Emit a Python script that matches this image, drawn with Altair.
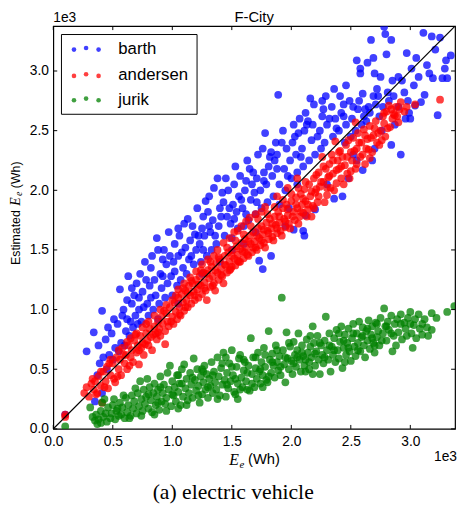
import altair as alt
import pandas as pd

# ---------------- data (values in units of 1e3 Wh) ----------------
barth = [
    (0.10, 0.12), (0.28, 0.65), (0.34, 0.81), (0.35, 0.23), (0.37, 0.45), (0.39, 0.55), (0.38, 0.70),
    (0.41, 0.99), (0.41, 0.30), (0.42, 0.60), (0.45, 0.50), (0.47, 0.62), (0.44, 0.75), (0.46, 0.85),
    (0.50, 0.58), (0.52, 0.68), (0.49, 0.80), (0.51, 0.92), (0.56, 1.17), (0.55, 0.65), (0.57, 0.72),
    (0.54, 0.88), (0.58, 0.95), (0.60, 0.70), (0.61, 0.82), (0.59, 1.00), (0.62, 1.08), (0.63, 1.28),
    (0.64, 0.78), (0.65, 0.90), (0.67, 0.85), (0.69, 0.95), (0.66, 1.05), (0.68, 1.12), (0.70, 1.22),
    (0.71, 0.88), (0.72, 1.00), (0.74, 0.90), (0.76, 1.02), (0.75, 1.15), (0.73, 1.30), (0.77, 1.40),
    (0.80, 0.95), (0.79, 1.05), (0.81, 1.20), (0.82, 1.35), (0.84, 1.00), (0.86, 1.12), (0.85, 1.25),
    (0.83, 1.45), (0.87, 1.60), (0.89, 1.05), (0.91, 1.18), (0.90, 1.30), (0.92, 1.42), (0.94, 1.10),
    (0.96, 1.22), (0.95, 1.38), (0.93, 1.50), (0.97, 1.65), (1.00, 1.12), (0.99, 1.28), (1.01, 1.40),
    (1.02, 1.55), (1.04, 1.20), (1.05, 1.45), (1.07, 1.25), (1.09, 1.35), (1.08, 1.48), (1.06, 1.62),
    (1.10, 1.72), (1.13, 1.76), (1.12, 1.30), (1.14, 1.42), (1.15, 1.58), (1.19, 1.63), (1.18, 1.38),
    (1.20, 1.50), (1.17, 1.70), (1.21, 1.85), (1.24, 1.40), (1.23, 1.55), (1.25, 1.68), (1.26, 1.78),
    (1.28, 1.91), (1.29, 1.45), (1.27, 1.62), (1.30, 1.82), (1.33, 1.50), (1.32, 1.65), (1.34, 1.75),
    (1.31, 1.95), (1.35, 2.02), (1.38, 2.10), (1.37, 1.55), (1.39, 1.70), (1.40, 1.85), (1.40, 1.40),
    (1.45, 2.10), (1.44, 1.62), (1.46, 1.78), (1.43, 1.90), (1.47, 2.00), (1.50, 1.60), (1.49, 1.72),
    (1.51, 1.88), (1.52, 2.05), (1.55, 1.68), (1.54, 1.82), (1.56, 1.95), (1.57, 2.12), (1.53, 2.20),
    (1.60, 1.70), (1.59, 1.85), (1.61, 2.00), (1.62, 2.08), (1.60, 1.55), (1.65, 2.18), (1.64, 1.75),
    (1.66, 1.92), (1.67, 2.05), (1.63, 2.25), (1.70, 1.80), (1.69, 1.98), (1.71, 2.10), (1.72, 2.30),
    (1.73, 1.41), (1.76, 1.34), (1.75, 1.85), (1.74, 2.00), (1.77, 2.15), (1.76, 2.35), (1.80, 1.90),
    (1.79, 2.05), (1.81, 2.20), (1.82, 2.28), (1.78, 2.48), (1.83, 1.45), (1.85, 1.95), (1.84, 2.12),
    (1.86, 2.25), (1.87, 2.40), (1.89, 2.80), (1.90, 2.05), (1.88, 2.30), (1.95, 2.00), (1.94, 2.18),
    (1.96, 2.35), (1.93, 2.50), (1.95, 1.70), (2.00, 2.10), (1.99, 2.25), (2.01, 2.40), (2.02, 2.55),
    (1.98, 1.85), (2.02, 1.67), (2.05, 2.15), (2.04, 2.30), (2.06, 2.48), (2.07, 2.60), (2.10, 2.20),
    (2.09, 2.35), (2.11, 2.50), (2.12, 2.65), (2.10, 1.66), (2.11, 1.62), (2.12, 1.79), (2.16, 2.77),
    (2.15, 2.25), (2.17, 2.42), (2.14, 2.58), (2.19, 2.72), (2.20, 2.30), (2.18, 2.55), (2.20, 1.84),
    (2.25, 2.35), (2.24, 2.50), (2.26, 2.62), (2.29, 2.79), (2.28, 2.40), (2.30, 2.55), (2.27, 2.68),
    (2.30, 2.05), (2.36, 2.85), (2.35, 2.45), (2.37, 2.60), (2.34, 2.70), (2.36, 1.93), (2.41, 2.79),
    (2.40, 2.50), (2.42, 2.65), (2.43, 1.95), (2.45, 2.40), (2.46, 2.55), (2.44, 2.72), (2.48, 2.10),
    (2.50, 2.45), (2.51, 2.60), (2.49, 2.75), (2.55, 3.09), (2.54, 2.50), (2.56, 2.68), (2.55, 2.25),
    (2.58, 3.02), (2.58, 2.98), (2.59, 2.55), (2.57, 2.75), (2.60, 2.81), (2.61, 2.62), (2.60, 2.17),
    (2.64, 3.07), (2.63, 2.58), (2.65, 2.70), (2.67, 3.26), (2.66, 2.65), (2.69, 3.11), (2.69, 2.79),
    (2.70, 2.35), (2.71, 2.72), (2.73, 2.79), (2.74, 2.62), (2.72, 2.85), (2.78, 3.37), (2.77, 2.70),
    (2.80, 3.14), (2.79, 3.31), (2.81, 2.82), (2.82, 2.75), (2.84, 3.26), (2.84, 2.38), (2.85, 2.92),
    (2.86, 2.79), (2.87, 2.55), (2.92, 2.30), (2.93, 2.92), (2.95, 2.82), (2.96, 2.60), (3.00, 2.60),
    (3.01, 3.02), (2.99, 2.65), (3.04, 2.71), (3.03, 2.88), (3.05, 3.11), (3.09, 2.74), (3.11, 3.32),
    (3.16, 2.98), (3.18, 3.29), (3.19, 2.94), (3.23, 2.63), (3.25, 3.28), (3.27, 2.94), (3.30, 3.09),
    (3.29, 3.02), (3.31, 2.94), (3.34, 3.13),
    (0.62, 0.92), (0.66, 1.18), (0.72, 1.10), (0.78, 1.25), (0.82, 1.10), (0.88, 1.50), (0.92, 1.28),
    (0.98, 1.45), (1.02, 1.32), (1.05, 1.68), (1.11, 1.52), (1.16, 1.45), (1.22, 1.62), (1.26, 1.50),
    (1.31, 1.70), (1.36, 1.62), (1.41, 1.78), (1.42, 1.98), (1.48, 1.85), (1.52, 1.76), (1.58, 1.92),
    (1.62, 1.80), (1.68, 2.15), (1.71, 1.90), (1.77, 2.08), (1.83, 2.32), (1.88, 2.18), (1.92, 2.40),
    (1.97, 2.12), (2.03, 2.45), (2.08, 2.28), (2.13, 2.55), (2.22, 2.45), (2.26, 2.75), (2.32, 2.60),
    (2.38, 2.52), (2.44, 2.62), (2.52, 2.70), (2.62, 2.68), (2.75, 2.95), (2.90, 2.95), (3.07, 2.95),
    (3.14, 3.05), (3.21, 3.18), (2.97, 3.15), (2.70, 2.98), (2.46, 2.88), (2.05, 2.05), (1.90, 1.88),
    (1.70, 1.65), (1.50, 1.50), (1.25, 1.30), (1.05, 1.05), (0.88, 0.92), (2.52, 2.30), (2.76, 2.50),
    (2.68, 2.25), (3.12, 2.80), (2.98, 2.75), (2.90, 2.70),
]

andersen = [
    (0.10, 0.10), (0.10, 0.12), (0.26, 0.30), (0.28, 0.35), (0.30, 0.27), (0.32, 0.38), (0.34, 0.33),
    (0.35, 0.40), (0.37, 0.30), (0.38, 0.44), (0.40, 0.36), (0.41, 0.22), (0.42, 0.48), (0.44, 0.40),
    (0.45, 0.52), (0.46, 0.34), (0.48, 0.45), (0.50, 0.55), (0.51, 0.42), (0.52, 0.39), (0.53, 0.60),
    (0.55, 0.50), (0.56, 0.58), (0.57, 0.45), (0.58, 0.68), (0.60, 0.55), (0.61, 0.62), (0.62, 0.50),
    (0.63, 0.70), (0.65, 0.60), (0.65, 0.76), (0.66, 0.66), (0.67, 0.56), (0.68, 0.74), (0.70, 0.64),
    (0.71, 0.70), (0.72, 0.54), (0.73, 0.78), (0.74, 0.68), (0.75, 0.72), (0.75, 0.85), (0.76, 0.62),
    (0.78, 0.80), (0.79, 0.74), (0.80, 0.70), (0.81, 0.84), (0.82, 0.77), (0.83, 0.66), (0.85, 0.86),
    (0.85, 0.95), (0.86, 0.80), (0.87, 0.75), (0.88, 0.90), (0.89, 0.84), (0.90, 0.78), (0.91, 0.94),
    (0.92, 0.88), (0.94, 0.71), (0.94, 0.82), (0.95, 0.97), (0.95, 1.04), (0.96, 0.90), (0.97, 0.86),
    (0.98, 1.02), (1.00, 0.94), (1.01, 0.88), (1.02, 1.06), (1.03, 0.98), (1.04, 0.92), (1.05, 1.10),
    (1.05, 1.17), (1.06, 1.02), (1.07, 0.95), (1.08, 1.13), (1.09, 1.06), (1.10, 0.99), (1.11, 1.16),
    (1.12, 1.08), (1.13, 1.02), (1.14, 1.20), (1.15, 1.12), (1.15, 1.27), (1.16, 1.05), (1.17, 1.22),
    (1.18, 1.15), (1.19, 1.08), (1.20, 1.25), (1.21, 1.17), (1.22, 1.10), (1.23, 1.28), (1.24, 1.20),
    (1.25, 1.13), (1.25, 1.38), (1.26, 1.31), (1.27, 1.23), (1.28, 1.16), (1.29, 1.08), (1.30, 1.33),
    (1.31, 1.26), (1.32, 1.19), (1.33, 1.36), (1.34, 1.28), (1.35, 1.22), (1.35, 1.45), (1.36, 1.16),
    (1.37, 1.39), (1.38, 1.31), (1.39, 1.25), (1.40, 1.42), (1.41, 1.34), (1.42, 1.28), (1.43, 1.22),
    (1.43, 1.56), (1.44, 1.45), (1.45, 1.37), (1.46, 1.31), (1.47, 1.48), (1.48, 1.40), (1.49, 1.34),
    (1.50, 1.36), (1.51, 1.50), (1.52, 1.43), (1.52, 1.65), (1.53, 1.37), (1.54, 1.53), (1.55, 1.46),
    (1.56, 1.40), (1.57, 1.40), (1.58, 1.56), (1.58, 1.70), (1.59, 1.49), (1.60, 1.43), (1.61, 1.59),
    (1.62, 1.52), (1.62, 1.74), (1.63, 1.46), (1.64, 1.45), (1.65, 1.62), (1.66, 1.55), (1.67, 1.48),
    (1.68, 1.65), (1.69, 1.57), (1.70, 1.80), (1.70, 1.52), (1.71, 1.50), (1.72, 1.68), (1.73, 1.60),
    (1.74, 1.54), (1.75, 1.70), (1.76, 1.63), (1.77, 1.56), (1.78, 1.52), (1.78, 1.86), (1.79, 1.73),
    (1.80, 1.66), (1.81, 1.59), (1.82, 1.76), (1.83, 1.68), (1.84, 1.61), (1.85, 1.58), (1.86, 1.78),
    (1.87, 1.71), (1.88, 1.64), (1.88, 1.95), (1.89, 1.82), (1.90, 1.73), (1.91, 1.66), (1.92, 1.62),
    (1.93, 1.85), (1.94, 1.76), (1.95, 1.69), (1.96, 1.88), (1.97, 1.79), (1.97, 2.02), (1.98, 1.72),
    (1.99, 1.68), (2.00, 1.91), (2.02, 1.82), (2.03, 1.75), (2.04, 1.94), (2.05, 1.85), (2.05, 2.10),
    (2.06, 1.72), (2.07, 1.78), (2.08, 1.97), (2.09, 1.88), (2.10, 1.81), (2.11, 2.01), (2.12, 1.91),
    (2.13, 1.78), (2.14, 1.84), (2.15, 2.05), (2.16, 1.95), (2.17, 1.78), (2.18, 1.87), (2.19, 2.10),
    (2.20, 1.98), (2.21, 2.01), (2.22, 1.90), (2.23, 2.15), (2.24, 2.03), (2.26, 2.28), (2.27, 2.07),
    (2.28, 1.90), (2.29, 2.18), (2.30, 1.96), (2.31, 2.11), (2.32, 2.22), (2.33, 2.02), (2.34, 2.30),
    (2.35, 2.14), (2.37, 2.41), (2.38, 2.06), (2.39, 2.25), (2.40, 2.18), (2.41, 2.33), (2.42, 2.10),
    (2.43, 2.28), (2.45, 2.21), (2.46, 2.38), (2.47, 2.14), (2.49, 2.10), (2.50, 2.32), (2.51, 2.25),
    (2.52, 2.44), (2.54, 2.18), (2.54, 2.57), (2.55, 2.35), (2.56, 2.48), (2.58, 2.28), (2.59, 2.40),
    (2.61, 2.51), (2.62, 2.22), (2.64, 2.43), (2.65, 2.34), (2.66, 2.54), (2.68, 2.32), (2.69, 2.46),
    (2.71, 2.58), (2.72, 2.40), (2.74, 2.38), (2.75, 2.50), (2.77, 2.62), (2.78, 2.56), (2.79, 2.45),
    (2.80, 2.66), (2.82, 2.71), (2.83, 2.53), (2.85, 2.60), (2.86, 2.64), (2.87, 2.63), (2.88, 2.70),
    (2.90, 2.57), (2.92, 2.74), (2.95, 2.66), (3.04, 2.72), (3.25, 2.76),
    (0.33, 0.42), (0.36, 0.29), (0.43, 0.35), (0.47, 0.55), (0.54, 0.44), (0.59, 0.62), (0.64, 0.53),
    (0.69, 0.79), (0.72, 0.66), (0.77, 0.71), (0.78, 0.88), (0.84, 0.79), (0.88, 0.81), (0.93, 0.99),
    (0.99, 0.90), (1.00, 1.08), (1.03, 1.12), (1.06, 0.96), (1.09, 1.18), (1.11, 1.02), (1.13, 1.14),
    (1.16, 1.24), (1.19, 1.12), (1.22, 1.21), (1.24, 1.33), (1.27, 1.18), (1.29, 1.30), (1.32, 1.40),
    (1.34, 1.20), (1.36, 1.33), (1.39, 1.44), (1.41, 1.29), (1.44, 1.38), (1.46, 1.52), (1.48, 1.33),
    (1.50, 1.45), (1.53, 1.58), (1.55, 1.41), (1.57, 1.51), (1.60, 1.63), (1.61, 1.48), (1.64, 1.57),
    (1.66, 1.70), (1.68, 1.52), (1.71, 1.62), (1.72, 1.76), (1.75, 1.58), (1.77, 1.67), (1.80, 1.80),
    (1.81, 1.64), (1.84, 1.72), (1.86, 1.86), (1.88, 1.68), (1.90, 1.78), (1.93, 1.92), (1.95, 1.74),
    (1.97, 1.84), (2.00, 1.97), (2.01, 1.78), (2.04, 1.88), (2.06, 2.02), (2.08, 1.82), (2.10, 1.93),
    (2.12, 2.07), (2.14, 1.88), (2.17, 1.99), (2.19, 1.85), (2.21, 2.13), (2.23, 1.95), (2.25, 2.07),
    (2.27, 2.20), (2.30, 2.02), (2.32, 2.12), (2.35, 2.25), (2.36, 2.00), (2.38, 2.17), (2.40, 2.32),
    (2.42, 2.20), (2.44, 2.05), (2.47, 2.28), (2.48, 2.42), (2.50, 2.16), (2.53, 2.33), (2.55, 2.22),
    (2.57, 2.40), (2.60, 2.30), (2.62, 2.46), (2.63, 2.35), (2.66, 2.27), (2.67, 2.44), (2.70, 2.52),
    (2.73, 2.48), (2.76, 2.42), (2.78, 2.65), (2.81, 2.52), (2.84, 2.68), (2.89, 2.62), (2.91, 2.68),
    (2.97, 2.70), (1.48, 1.60), (1.38, 1.50), (1.30, 1.42), (1.20, 1.32), (1.10, 1.22), (1.65, 1.77),
    (1.75, 1.82), (1.55, 1.66), (0.90, 1.00), (0.80, 0.90), (0.70, 0.80), (0.62, 0.73), (0.55, 0.66),
    (0.48, 0.58), (0.40, 0.48),
]

jurik = [
    (0.10, 0.02), (0.31, 0.18), (0.33, 0.10), (0.35, 0.07), (0.36, 0.12), (0.37, 0.04), (0.38, 0.08),
    (0.40, 0.05), (0.40, 0.15), (0.41, 0.22), (0.42, 0.10), (0.44, 0.13), (0.45, 0.06), (0.46, 0.18),
    (0.48, 0.09), (0.49, 0.13), (0.50, 0.20), (0.51, 0.25), (0.52, 0.08), (0.53, 0.15), (0.55, 0.11),
    (0.56, 0.22), (0.57, 0.12), (0.58, 0.18), (0.60, 0.09), (0.61, 0.26), (0.62, 0.14), (0.63, 0.20),
    (0.65, 0.11), (0.66, 0.28), (0.67, 0.17), (0.68, 0.23), (0.70, 0.13), (0.71, 0.30), (0.72, 0.19),
    (0.73, 0.40), (0.74, 0.25), (0.75, 0.15), (0.76, 0.33), (0.77, 0.21), (0.78, 0.27), (0.79, 0.42),
    (0.80, 0.17), (0.81, 0.35), (0.82, 0.24), (0.83, 0.14), (0.84, 0.30), (0.85, 0.38), (0.86, 0.20),
    (0.87, 0.27), (0.88, 0.33), (0.89, 0.16), (0.90, 0.44), (0.91, 0.23), (0.92, 0.30), (0.93, 0.37),
    (0.94, 0.21), (0.95, 0.26), (0.96, 0.47), (0.97, 0.33), (0.98, 0.53), (0.99, 0.19), (1.00, 0.40),
    (1.01, 0.28), (1.02, 0.35), (1.03, 0.23), (1.04, 0.45), (1.05, 0.31), (1.06, 0.38), (1.07, 0.20),
    (1.08, 0.50), (1.09, 0.27), (1.10, 0.54), (1.11, 0.34), (1.12, 0.42), (1.13, 0.24), (1.14, 0.30),
    (1.15, 0.47), (1.16, 0.37), (1.17, 0.26), (1.18, 0.59), (1.19, 0.41), (1.20, 0.32), (1.21, 0.50),
    (1.22, 0.36), (1.23, 0.22), (1.24, 0.44), (1.25, 0.29), (1.26, 0.39), (1.27, 0.53), (1.28, 0.33),
    (1.29, 0.46), (1.30, 0.26), (1.31, 0.42), (1.32, 0.36), (1.33, 0.56), (1.34, 0.30), (1.35, 0.48),
    (1.36, 0.39), (1.37, 0.33), (1.38, 0.60), (1.39, 0.44), (1.40, 0.28), (1.41, 0.51), (1.42, 0.37),
    (1.43, 0.64), (1.44, 0.41), (1.45, 0.27), (1.46, 0.47), (1.47, 0.34), (1.48, 0.55), (1.49, 0.40),
    (1.50, 0.66), (1.51, 0.45), (1.52, 0.31), (1.53, 0.29), (1.54, 0.52), (1.55, 0.38), (1.56, 0.59),
    (1.57, 0.62), (1.58, 0.43), (1.59, 0.35), (1.60, 0.49), (1.61, 0.56), (1.62, 0.40), (1.63, 0.33),
    (1.64, 0.53), (1.65, 0.32), (1.66, 0.76), (1.67, 0.46), (1.68, 0.60), (1.69, 0.35), (1.70, 0.51),
    (1.71, 0.42), (1.72, 0.64), (1.73, 0.48), (1.74, 0.38), (1.75, 0.56), (1.76, 0.45), (1.77, 0.68),
    (1.78, 0.52), (1.79, 0.41), (1.80, 0.39), (1.81, 0.82), (1.82, 0.58), (1.83, 0.47), (1.84, 0.63),
    (1.85, 0.53), (1.86, 0.43), (1.87, 0.70), (1.88, 0.56), (1.89, 0.49), (1.90, 0.61), (1.91, 0.45),
    (1.92, 1.10), (1.93, 0.66), (1.94, 0.54), (1.95, 0.39), (1.96, 0.81), (1.97, 0.59), (1.98, 0.50),
    (1.99, 0.69), (2.00, 0.57), (2.01, 0.46), (2.02, 0.73), (2.03, 0.62), (2.04, 0.52), (2.05, 0.66),
    (2.06, 0.80), (2.07, 0.58), (2.08, 0.48), (2.09, 0.70), (2.10, 0.61), (2.11, 0.53), (2.12, 0.48),
    (2.13, 0.75), (2.14, 0.64), (2.15, 0.56), (2.16, 0.69), (2.17, 0.60), (2.18, 0.86), (2.18, 0.46),
    (2.19, 0.72), (2.20, 0.53), (2.21, 0.65), (2.22, 0.78), (2.23, 0.58), (2.24, 0.46), (2.25, 0.70),
    (2.26, 0.62), (2.27, 0.55), (2.28, 0.74), (2.29, 0.94), (2.30, 0.66), (2.31, 0.58), (2.32, 0.80),
    (2.33, 0.48), (2.34, 0.69), (2.35, 0.62), (2.36, 0.76), (2.37, 0.56), (2.38, 0.83), (2.39, 0.66),
    (2.40, 0.59), (2.41, 0.73), (2.42, 0.86), (2.43, 0.51), (2.44, 0.68), (2.45, 0.79), (2.46, 0.62),
    (2.47, 0.72), (2.48, 0.84), (2.49, 0.65), (2.50, 0.57), (2.51, 0.76), (2.52, 0.88), (2.53, 0.69),
    (2.54, 0.61), (2.55, 0.80), (2.56, 0.72), (2.57, 0.90), (2.58, 0.65), (2.59, 0.77), (2.60, 0.85),
    (2.61, 0.70), (2.62, 0.60), (2.63, 0.82), (2.64, 0.74), (2.65, 0.91), (2.66, 0.67), (2.67, 0.79),
    (2.68, 0.86), (2.69, 0.72), (2.70, 0.64), (2.71, 0.89), (2.72, 0.77), (2.73, 0.82), (2.74, 0.70),
    (2.75, 0.93), (2.77, 0.80), (2.78, 1.01), (2.79, 0.86), (2.80, 0.74), (2.81, 0.90), (2.82, 0.83),
    (2.84, 0.95), (2.85, 0.65), (2.86, 0.78), (2.87, 0.88), (2.89, 0.92), (2.90, 0.81), (2.92, 0.96),
    (2.93, 0.75), (2.95, 0.89), (2.96, 0.84), (2.98, 0.93), (3.00, 0.98), (3.01, 0.80), (3.02, 0.68),
    (3.03, 0.87), (3.05, 0.76), (3.07, 0.96), (3.08, 0.84), (3.10, 0.79), (3.12, 0.92), (3.15, 0.78),
    (3.18, 0.97), (3.18, 0.83), (3.22, 0.93), (3.31, 0.98), (3.37, 1.03),
    (0.43, 0.25), (0.54, 0.17), (0.59, 0.28), (0.64, 0.09), (0.69, 0.34), (0.74, 0.11), (0.80, 0.29),
    (0.85, 0.12), (0.90, 0.35), (0.95, 0.15), (1.00, 0.29), (1.05, 0.17), (1.08, 0.38), (1.12, 0.20),
    (1.17, 0.43), (1.22, 0.28), (1.26, 0.48), (1.30, 0.35), (1.34, 0.45), (1.38, 0.25), (1.42, 0.55),
    (1.46, 0.37), (1.50, 0.52), (1.53, 0.42), (1.57, 0.33), (1.60, 0.58), (1.63, 0.47), (1.67, 0.38),
    (1.70, 0.60), (1.74, 0.50), (1.78, 0.62), (1.81, 0.44), (1.84, 0.56), (1.88, 0.66), (1.91, 0.52),
    (1.95, 0.60), (1.98, 0.72), (2.02, 0.55), (2.05, 0.60), (2.09, 0.64), (2.12, 0.58), (2.16, 0.78),
    (2.20, 0.63), (2.24, 0.72), (2.28, 0.60), (2.32, 0.70), (2.36, 0.66), (2.40, 0.80), (2.44, 0.74),
    (2.48, 0.68), (2.52, 0.80), (2.56, 0.66), (2.60, 0.78), (2.64, 0.84), (2.68, 0.76), (2.72, 0.88),
    (2.76, 0.74), (2.80, 0.86), (2.84, 0.80), (2.88, 0.70), (2.92, 0.88), (2.97, 0.78), (3.00, 0.88),
    (3.04, 0.92), (3.10, 0.88), (3.14, 0.85), (1.45, 0.60), (1.25, 0.50), (1.05, 0.45), (0.88, 0.22),
    (2.15, 0.50), (2.45, 0.56), (2.70, 0.70), (1.76, 0.35), (1.55, 0.25),
]

series_names = ["barth", "andersen", "jurik"]
series_colors = ["#0000ff", "#ff0000", "#008000"]
tick_values = [0.0, 0.5, 1.0, 1.5, 2.0, 2.5, 3.0]
axis_max = 3.376
diag = [0.0, axis_max]

# ---------------- build tables ----------------
rows = []
for name, pts in zip(series_names, [barth, andersen, jurik]):
    for x, y in pts:
        rows.append({"series": name, "x": x, "y": y})
df = pd.DataFrame(rows)
diag_df = pd.DataFrame({"x": diag, "y": diag})
ticks_df = pd.DataFrame({"x": tick_values, "y": tick_values})

W, H = 408, 409
FONT = "Liberation Sans"
SERIF = "Liberation Serif"

xs = alt.Scale(domain=[0, axis_max], nice=False, zero=False)
ys = alt.Scale(domain=[0, axis_max], nice=False, zero=False)

axis_common = dict(
    values=tick_values, format=".1f", labelFont=FONT, labelFontSize=14, labelColor="black",
    ticks=False, domain=False, grid=False, title=None, labelFlush=False, labelOverlap=False,
)
x_axis = alt.Axis(labelPadding=6, **axis_common)
y_axis = alt.Axis(labelPadding=5, **axis_common)

X = alt.X("x:Q", scale=xs, axis=x_axis)
Y = alt.Y("y:Q", scale=ys, axis=y_axis)

points = alt.Chart(df).mark_circle(size=62, opacity=0.75, clip=True).encode(
    x=X, y=Y,
    color=alt.Color("series:N", scale=alt.Scale(domain=series_names, range=series_colors), legend=None),
)

line = alt.Chart(diag_df).mark_line(color="black", strokeWidth=1.2, clip=True).encode(x=X, y=Y)

tk = alt.Chart(ticks_df)
tick_layers = [
    tk.mark_rule(color="black").encode(x=X, y=alt.value(H), y2=alt.value(H - 4)),
    tk.mark_rule(color="black").encode(x=X, y=alt.value(0), y2=alt.value(4)),
    tk.mark_rule(color="black").encode(y=Y, x=alt.value(0), x2=alt.value(4)),
    tk.mark_rule(color="black").encode(y=Y, x=alt.value(W - 4), x2=alt.value(W)),
]

one = alt.Data(values=[{}])


def txt(text, x, y, size, font=FONT, align="left", baseline="alphabetic", angle=None, style=None):
    kw = dict(text=text, font=font, fontSize=size, align=align, baseline=baseline, color="black")
    if angle is not None:
        kw["angle"] = angle
    if style is not None:
        kw["fontStyle"] = style
    return alt.Chart(one).mark_text(**kw).encode(x=alt.value(x), y=alt.value(y))


texts = [
    txt("F-City", W / 2, -4.5, 15, align="center"),
    txt("1e3", 0, -4, 14),
    txt("1e3", 410, 441.5, 14, align="right"),
    # x axis title
    txt("E", 178.7, 445.2, 16, font=SERIF, style="italic"),
    txt("e", 189, 449, 11, font=SERIF, style="italic"),
    txt("(Wh)", 197.7, 444.8, 15),
    # y axis title (rotated)
    txt("Estimated", -34, 242.5, 12.5, angle=270),
    txt("E", -34, 182.5, 14, font=SERIF, style="italic", angle=270),
    txt("e", -31.5, 172.5, 10, font=SERIF, style="italic", angle=270),
    txt("(Wh)", -34, 164.5, 12.5, angle=270),
    # caption
    txt("(a) electric vehicle", 182.7, 480.5, 22, font=SERIF, align="center"),
]

# legend
legend_box = alt.Chart(one).mark_rect(fill="white", stroke="black", strokeWidth=1).encode(
    x=alt.value(8.3), x2=alt.value(146), y=alt.value(8.5), y2=alt.value(89.5)
)
legend_layers = [legend_box]
row_y = [23.8, 50.5, 75.2]
for name, col, ry in zip(series_names, series_colors, row_y):
    for dx, dy in [(21, 0), (33.3, -1.6), (46, 0)]:
        legend_layers.append(
            alt.Chart(one).mark_circle(size=22, opacity=0.75, color=col).encode(
                x=alt.value(dx), y=alt.value(ry + dy)
            )
        )
    legend_layers.append(txt(name, 66, ry - 0.5, 17, baseline="middle"))

chart = alt.layer(points, line, *tick_layers, *legend_layers, *texts).properties(
    width=W, height=H,
    autosize=alt.AutoSizeParams(type="none"),
    padding={"left": 46, "top": 14.5, "right": 3, "bottom": 82},
).configure_view(stroke="black", strokeWidth=1.2)

chart.save("out.html", embed_options={"renderer": "svg", "actions": False})
